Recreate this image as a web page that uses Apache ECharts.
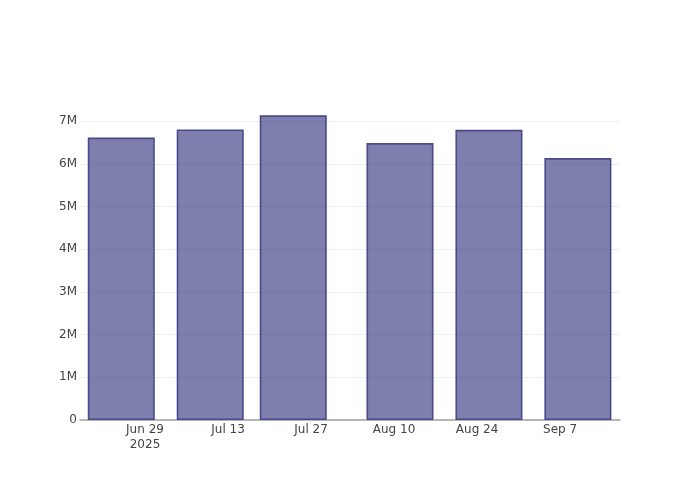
<!DOCTYPE html>
<html>
<head>
<meta charset="utf-8">
<script src="https://cdn.jsdelivr.net/npm/echarts@6/dist/echarts.min.js"></script>
<style>html,body{margin:0;padding:0;background:#fff}#c{width:700px;height:500px}</style>
</head>
<body>
<div id="c"></div>
<script>
const dates = ['2025-06-25', '2025-07-10', '2025-07-24', '2025-08-11', '2025-08-26', '2025-09-10'];
const values = [6620000, 6810000, 7140000, 6490000, 6800000, 6140000];
const tickDates = ['2025-06-29', '2025-07-13', '2025-07-27', '2025-08-10', '2025-08-24', '2025-09-07'];
const tickLabels = ['Jun 29\n2025', 'Jul 13', 'Jul 27', 'Aug 10', 'Aug 24', 'Sep 7'];
const yTickValues = [0, 1000000, 2000000, 3000000, 4000000, 5000000, 6000000, 7000000];
const yTickLabels = ['0', '1M', '2M', '3M', '4M', '5M', '6M', '7M'];

const DAY = 86400000;
const ref = Date.UTC(2025, 5, 29);
function dayOff(s) { const p = s.split('-').map(Number); return (Date.UTC(p[0], p[1] - 1, p[2]) - ref) / DAY; }
const xs = dates.map(dayOff);
const tickX = tickDates.map(dayOff);
const xMin = -10.96, xMax = 80.1;
const plotW = 540;
const barPx = plotW / (xMax - xMin) * 14 * 0.8 + 0.6;

const chart = echarts.init(document.getElementById('c'), null, { renderer: 'canvas' });
chart.setOption({
  animation: false,
  backgroundColor: '#fff',
  textStyle: { fontFamily: '"DejaVu Sans", Verdana, Arial, sans-serif' },
  grid: { left: 80, right: 80, top: 100, bottom: 80, containLabel: false, outerBoundsMode: 'none' },
  xAxis: {
    type: 'value', min: xMin, max: xMax,
    axisLine: { show: true, lineStyle: { color: '#a0a0a0', width: 1.5 } },
    axisTick: { show: false },
    splitLine: { show: false },
    axisLabel: {
      customValues: tickX,
      formatter: v => { const i = tickX.findIndex(t => Math.abs(t - v) < 1e-6); return i >= 0 ? tickLabels[i] : ''; },
      color: '#444', fontSize: 12, lineHeight: 15, margin: 2,
      fontFamily: '"DejaVu Sans", Verdana, sans-serif'
    }
  },
  yAxis: {
    type: 'value', min: 0, max: 7500000, interval: 1000000,
    axisLine: { show: false }, axisTick: { show: false },
    splitLine: { show: true, showMinLine: false, showMaxLine: false, lineStyle: { color: '#eeeeee', width: 1 } },
    axisLabel: {
      showMaxLabel: false,
      formatter: v => { const i = yTickValues.indexOf(v); return i >= 0 ? yTickLabels[i] : ''; },
      color: '#444', fontSize: 12, margin: 3, padding: [2, 0, 0, 0],
      fontFamily: '"DejaVu Sans", Verdana, sans-serif'
    }
  },
  series: [{
    type: 'bar',
    data: xs.map((x, i) => [x, values[i]]),
    barWidth: barPx,
    itemStyle: { color: 'rgba(60,60,130,0.66)', borderColor: '#4a4a8a', borderWidth: 1.6 }
  }]
});
</script>
</body>
</html>
